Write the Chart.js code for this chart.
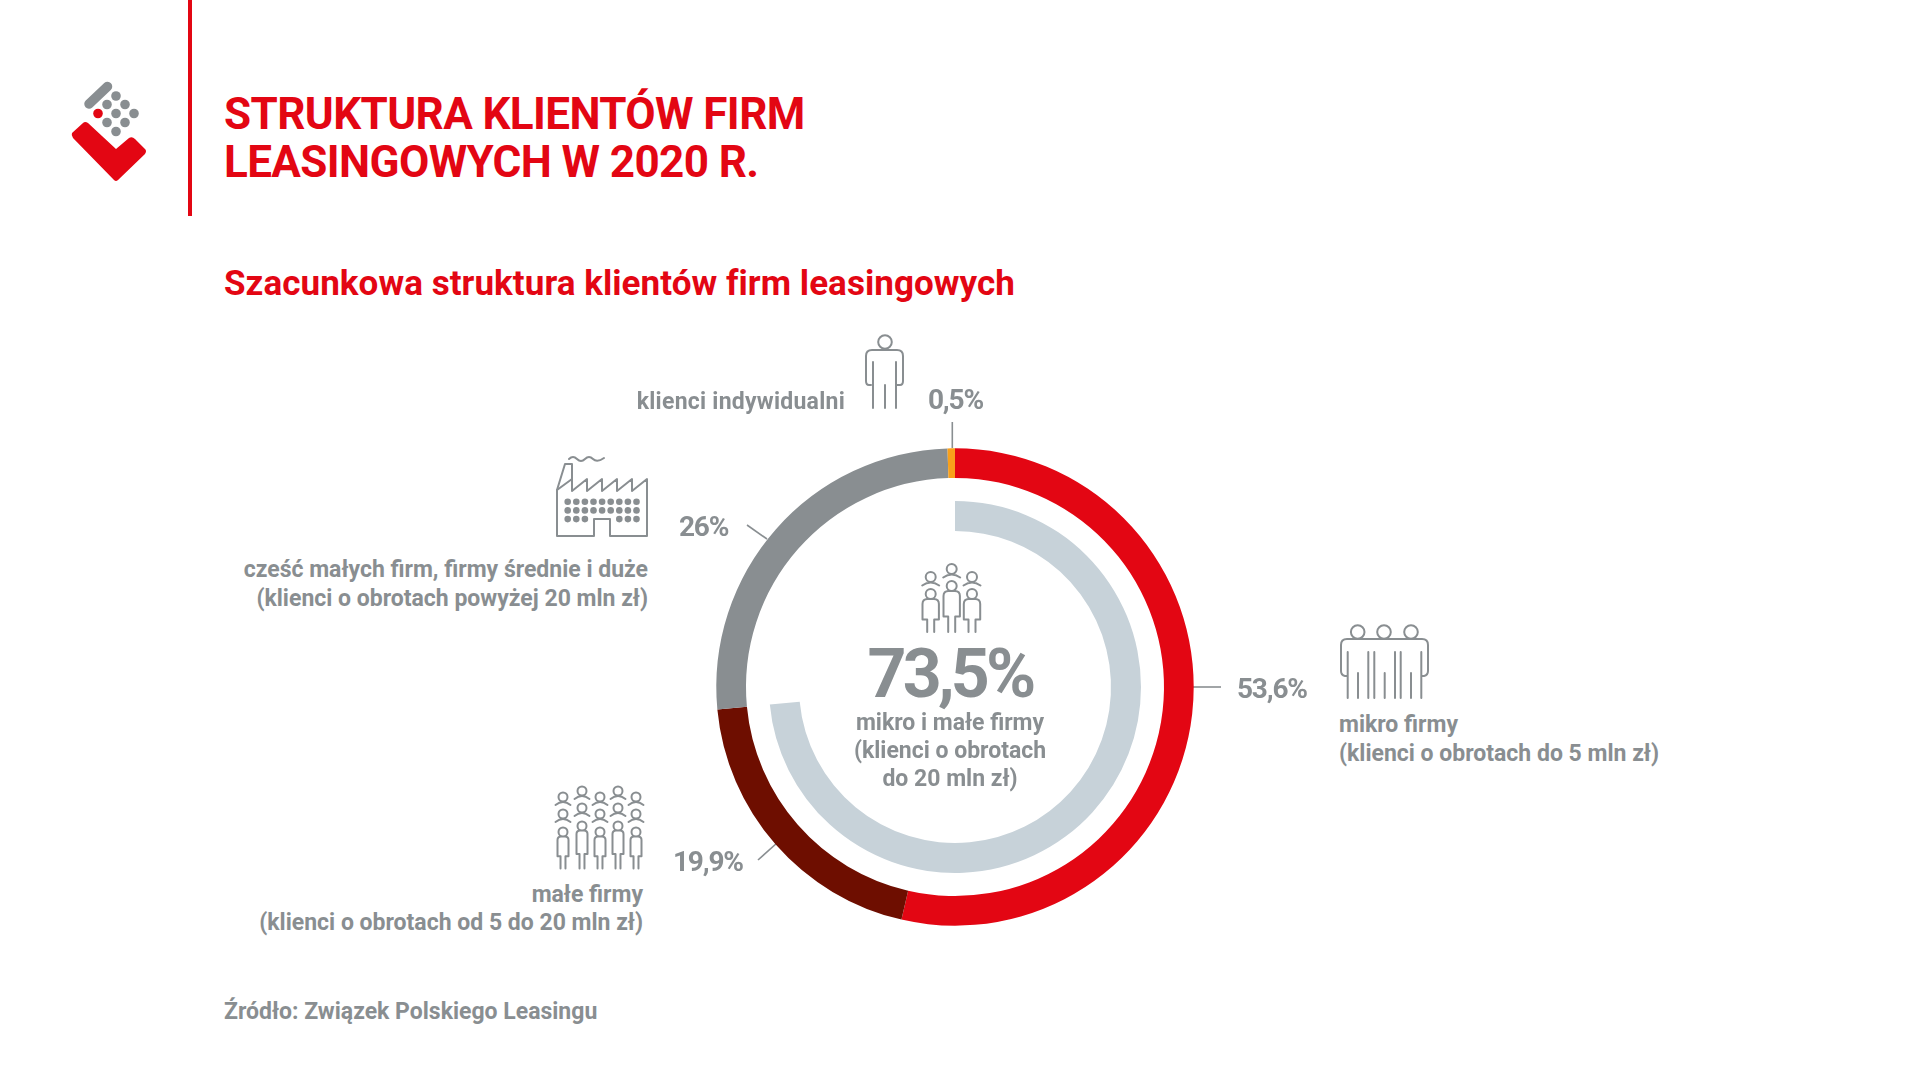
<!DOCTYPE html>
<html lang="pl">
<head>
<meta charset="utf-8">
<title>Struktura klientów firm leasingowych w 2020 r.</title>
<script src="https://cdn.jsdelivr.net/npm/chart.js@4"></script>
<style>
  html, body { margin: 0; padding: 0; background: #fff; }
  body { position: relative; width: 1920px; height: 1080px; overflow: hidden; font-family: Roboto, sans-serif; }
  #donut { position: absolute; left: 655px; top: 387px; }
  #art { position: absolute; left: 0; top: 0; }
  .t { position: absolute; white-space: nowrap; color: #898e91; font-weight: 700; font-size: 23px; line-height: 28px; letter-spacing: 0; }
  .r { text-align: right; }
  .c { text-align: center; }
  .red { color: #e30613; }
  .val { font-size: 28px; line-height: 32px; letter-spacing: -1.2px; }
  .ic { fill: none; stroke: #898e91; stroke-width: 2; stroke-linecap: round; stroke-linejoin: round; }
</style>
</head>
<body>

<svg id="art" width="1920" height="1080" viewBox="0 0 1920 1080">
  <!-- pionowa linia przy naglowku -->
  <rect x="188" y="0" width="4" height="216" fill="#e30613"/>

  <!-- logo -->
  <g>
    <line x1="89" y1="104" x2="107.5" y2="86.5" stroke="#898e91" stroke-width="9.5" stroke-linecap="round"/>
    <g fill="#898e91">
      <circle cx="116" cy="96" r="4.8"/><circle cx="107" cy="104.5" r="4.8"/><circle cx="125" cy="104.5" r="4.8"/>
      <circle cx="116" cy="113.5" r="4.8"/><circle cx="134" cy="113.5" r="4.8"/><circle cx="107" cy="122.5" r="4.8"/>
      <circle cx="125" cy="122.5" r="4.8"/><circle cx="116" cy="131.5" r="4.8"/>
    </g>
    <circle cx="98" cy="113.5" r="4.8" fill="#e30613"/>
    <path d="M72 133 L83 123 Q85 121 88 123 L116 149 L129 138 Q132 136 135 139 L145 149 Q147 151 145 154 L118 180 Q116 182 114 180 L73 138 Q71 135 72 133Z" fill="#e30613"/>
  </g>

  <!-- linie odniesienia -->
  <g stroke="#898e91" stroke-width="1.6" fill="none">
    <line x1="952.3" y1="422" x2="952.3" y2="448"/>
    <line x1="747" y1="525" x2="767" y2="539"/>
    <line x1="758" y1="860" x2="777" y2="843"/>
    <line x1="1193" y1="687" x2="1221" y2="687"/>
  </g>

  <!-- klient indywidualny -->
  <g class="ic">
    <circle cx="885" cy="342" r="6.8"/>
    <path d="M871 385 H869 Q866 385 866 381 V356 Q866 350 872 350 H897 Q903 350 903 356 V381 Q903 385 900 385 H897"/>
    <path d="M873 362 V408 M885 385 V408 M896 362 V408"/>
  </g>

  <!-- fabryka -->
  <g class="ic" transform="translate(530,440)">
    <path d="M27 50 L35 24 H42 V39"/>
    <path d="M27 96 V50 L42 39 V51 L57 39 V51 L72 39 V51 L87 39 V51 L102 39 V51 L117 39 V96 H80 V79 H64 V96 Z"/>
    <path d="M39 19 Q43 15 47 19 T55 19 T63 19 T74 18"/>
    <g id="okna" fill="#898e91" stroke="none"></g>
  </g>

  <!-- mikro firmy -->
  <g class="ic">
    <circle cx="1357.7" cy="632" r="6.8"/><circle cx="1384" cy="632" r="6.8"/><circle cx="1411" cy="632" r="6.8"/>
    <path d="M1347 676 H1345 Q1341 675 1341 671 V645 Q1341 639 1347 639 H1422 Q1428 639 1428 645 V671 Q1428 675 1424 676 H1422"/>
    <path d="M1347.7 652 V698 M1358 673 V698 M1368.3 652 V698 M1374.3 652 V698 M1384.7 673 V698 M1395 652 V698 M1400.7 652 V698 M1411 673 V698 M1421.3 652 V698"/>
  </g>

  <!-- grupy ludzi rysowane skryptem -->
  <g id="grupaMale" class="ic"></g>
  <g id="grupaSrodek" class="ic"></g>
</svg>

<canvas id="donut" width="600" height="600"></canvas>

<div class="t red" style="left:224px;top:90px;font-size:44px;line-height:48px;letter-spacing:-0.6px;">STRUKTURA KLIENTÓW FIRM<br>LEASINGOWYCH W 2020 R.</div>
<div class="t red" style="left:224px;top:263px;font-size:35px;line-height:42px;letter-spacing:0.05px;">Szacunkowa struktura klientów firm leasingowych</div>

<div class="t r" style="right:1075px;top:388px;letter-spacing:0.25px;">klienci indywidualni</div>
<div class="t val" style="left:928px;top:384px;">0,5%</div>
<div class="t val" style="left:679px;top:511px;">26%</div>
<div class="t r" style="right:1272px;top:555px;line-height:29px;">cześć małych firm, firmy średnie i duże<br>(klienci o obrotach powyżej 20 mln zł)</div>
<div class="t val" style="left:673px;top:846px;">19,9%</div>
<div class="t r" style="right:1277px;top:881px;">małe firmy<br>(klienci o obrotach od 5 do 20 mln zł)</div>
<div class="t val" style="left:1237px;top:673px;">53,6%</div>
<div class="t" style="left:1339px;top:710px;line-height:29px;">mikro firmy<br>(klienci o obrotach do 5 mln zł)</div>

<div class="t c" style="left:750px;width:400px;top:639px;font-size:68px;line-height:70px;letter-spacing:-3.8px;">73,5%</div>
<div class="t c" style="left:750px;width:400px;top:709px;">mikro i małe firmy<br>(klienci o obrotach<br>do 20 mln zł)</div>

<div class="t" style="left:224px;top:998px;">Źródło: Związek Polskiego Leasingu</div>

<script>
const categories = ['mikro firmy', 'małe firmy', 'część małych firm, firmy średnie i duże', 'klienci indywidualni'];
const shares = [53.6, 19.9, 26, 0.5];
const shareColors = ['#e30613', '#6e0e00', '#898e91', '#f9a01b'];

const microSmallShare = [73.5, 26.5];
const microSmallColors = ['#c7d2d9', 'rgba(0,0,0,0)'];

// pusty pierscien oddziela oba wykresy
const spacer = [100];

new Chart(document.getElementById('donut'), {
    type: 'doughnut',
    data: {
        labels: categories,
        datasets: [
            { data: shares, backgroundColor: shareColors, weight: 29.7 },
            { data: spacer, backgroundColor: 'rgba(0,0,0,0)', weight: 23 },
            { data: microSmallShare, backgroundColor: microSmallColors, weight: 30 }
        ]
    },
    options: {
        responsive: false,
        animation: false,
        radius: 238.7,
        cutout: '65.35%',
        rotation: 0,
        borderWidth: 0,
        layout: { padding: 0 },
        plugins: { legend: { display: false }, tooltip: { enabled: false } }
    }
});

// okna fabryki
const okna = document.getElementById('okna');
const svgNs = 'http://www.w3.org/2000/svg';
for (let wiersz = 0; wiersz < 3; wiersz++) {
    for (let k = 0; k < 9; k++) {
        if (wiersz === 2 && k > 2 && k < 6) continue;
        const c = document.createElementNS(svgNs, 'circle');
        c.setAttribute('cx', 37.7 + k * 8.6);
        c.setAttribute('cy', 61.7 + wiersz * 8.7);
        c.setAttribute('r', 3.3);
        okna.appendChild(c);
    }
}

// sama glowa z ramionami albo cala sylwetka, gdy podano wysokosc
function postac(grupa, x, y, r, wysokosc, szer, ramiona) {
    const g = document.createElementNS(svgNs, 'path');
    let d = `M${x - r} ${y}a${r} ${r} 0 1 1 ${2 * r} 0a${r} ${r} 0 1 1 ${-2 * r} 0`;
    if (wysokosc) {
        const top = y + r;
        const biodra = top + wysokosc * 0.62;
        const dol = top + wysokosc;
        const n = Math.min(szer - 2, 5);
        const noga = Math.min(szer * 0.45, 3.5);
        d += `M${x - noga} ${dol}V${biodra}H${x - szer}V${top + n}q0 ${-n} ${n} ${-n}H${x + szer - n}q${n} 0 ${n} ${n}V${biodra}H${x + noga}V${dol}`;
    } else {
        d += `M${x - ramiona} ${y + r + 3.5}q${ramiona} -6 ${2 * ramiona} 0`;
    }
    g.setAttribute('d', d);
    grupa.appendChild(g);
}

const grupaMale = document.getElementById('grupaMale');
[[563, 0], [582, -6], [600, 0], [618, -6], [636, 0]].forEach(([x, dy]) => {
    postac(grupaMale, x, 797 + dy, 4.5, 0, 0, 7.5);
    postac(grupaMale, x, 814 + dy, 4.5, 0, 0, 7.5);
    postac(grupaMale, x, 832 + dy, 4.5, 32 - dy, 5.5);
});

const grupaSrodek = document.getElementById('grupaSrodek');
[[930.7, 0], [951.7, -8], [972, 0]].forEach(([x, dy]) => {
    postac(grupaSrodek, x, 577 + dy, 5, 0, 0, 8.5);
    postac(grupaSrodek, x, 594 + dy, 5, 33 - dy, 8.2);
});
</script>
</body>
</html>
